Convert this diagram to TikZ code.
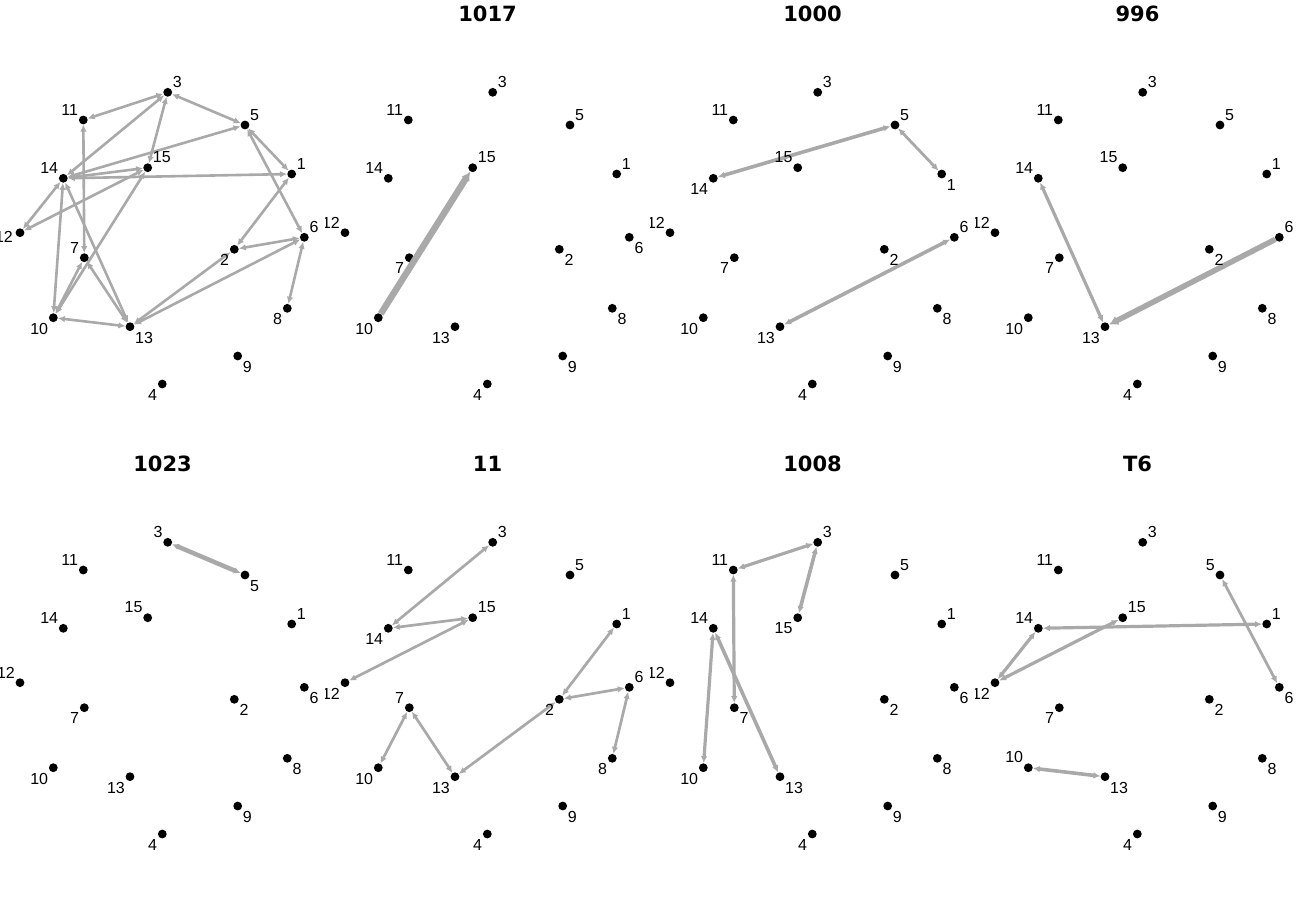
\documentclass[tikz,border=0pt]{standalone}
\usepackage{fontspec}
\setmainfont{Liberation Sans}
\newfontfamily\tfont{DejaVu Sans}
\usetikzlibrary{arrows.meta}
\definecolor{egray}{RGB}{169,169,169}
\tikzset{
  dot/.style={circle,fill=black,inner sep=0pt,minimum size=8.8pt},
  edge/.style={draw=egray,line width=2.6pt,{Latex[length=7pt,width=6.5pt]}-{Latex[length=7pt,width=6.5pt]}},
  edgeone/.style={draw=egray,-{Latex[length=9pt,width=10pt]}},
  lbl/.style={inner sep=0pt,font=\fontsize{16}{16}\selectfont},
  lne/.style={anchor=south west,xshift=5pt,yshift=4.5pt},
  lnw/.style={anchor=south east,xshift=-5pt,yshift=4.5pt},
  lse/.style={anchor=north west,xshift=5pt,yshift=-5pt},
  lsw/.style={anchor=north east,xshift=-5pt,yshift=-5pt},
  lw/.style={anchor=east,xshift=-7pt,yshift=-4pt},
  ttl/.style={inner sep=0pt,font=\tfont\bfseries\fontsize{21}{21}\selectfont}
}
\newcommand\plabels[4]{%
  \begin{scope}
    \clip (#2,#3) rectangle ++(325,450);
    \foreach \n/\d in {#4} {\node[lbl,l\d] (t#1-\n) at (n#1-\n) {\n};}
  \end{scope}}
\begin{document}
\begin{tikzpicture}[x=1pt,y=-1pt]
\useasboundingbox (0,0) rectangle (1300,900);
% nodes of all panels
\foreach \p/\ox/\oy in {1/0/0,2/325/0,3/650/0,4/975/0,5/0/450,6/325/450,7/650/450,8/975/450} {
  \foreach \n/\x/\y in {1/291.7/174,2/234.3/249.3,3/167.7/92.3,4/162.3/384,5/245/125,
      6/304.3/237.3,7/84.3/257.7,8/287.3/308.3,9/237.7/356,10/53.3/317.7,
      11/83.3/120,12/20/232.7,13/130/326.7,14/63.3/178.3,15/147.7/167.7}
    {\node[dot] (n\p-\n) at (\x+\ox,\y+\oy) {};}
}
% titles
\node[ttl] (h2) at (487.5,13.5) {1017};
\node[ttl] (h3) at (812.5,13.5) {1000};
\node[ttl] (h4) at (1137.5,13.5) {996};
\node[ttl] (h5) at (162.5,463.5) {1023};
\node[ttl] (h6) at (487.5,463.5) {11};
\node[ttl] (h7) at (812.5,463.5) {1008};
\node[ttl] (h8) at (1137.5,463.5) {T6};
% panel 1 edges
\foreach \a/\b in {3/11,3/5,3/14,3/15,14/5,14/15,14/1,14/12,15/12,15/10,14/10,14/13,
    11/7,7/13,10/7,10/13,5/1,5/6,1/2,2/6,6/13,2/13,6/8}
  {\draw[edge] (n1-\a) -- (n1-\b);}
% panel 2
\draw[edgeone,line width=6.5pt] (n2-10) -- (n2-15);
% panel 3
\draw[edge,line width=3.6pt] (n3-5) -- (n3-14);
\draw[edge,line width=2.8pt] (n3-5) -- (n3-1);
\draw[edge,line width=3.6pt] (n3-6) -- (n3-13);
% panel 4
\draw[edge,line width=3.2pt] (n4-14) -- (n4-13);
\draw[edgeone,line width=5.5pt] (n4-6) -- (n4-13);
% panel 5
\draw[edge,line width=4.5pt] (n5-3) -- (n5-5);
% panel 6
\foreach \a/\b in {3/14,14/15,15/12,1/2,2/6,6/8,7/10,7/13,13/2}
  {\draw[edge,line width=2.7pt] (n6-\a) -- (n6-\b);}
% panel 7
\draw[edge,line width=3.2pt] (n7-3) -- (n7-11);
\draw[edge,line width=3.6pt] (n7-3) -- (n7-15);
\draw[edge,line width=3.2pt] (n7-11) -- (n7-7);
\draw[edge,line width=3.2pt] (n7-14) -- (n7-10);
\draw[edge,line width=3.6pt] (n7-14) -- (n7-13);
% panel 8
\draw[edge,line width=3.2pt] (n8-14) -- (n8-1);
\draw[edge,line width=3.2pt] (n8-14) -- (n8-12);
\draw[edge,line width=3.2pt] (n8-12) -- (n8-15);
\draw[edge,line width=2.8pt] (n8-5) -- (n8-6);
\draw[edge,line width=3.6pt] (n8-10) -- (n8-13);
% labels
\plabels{1}{0}{0}{1/ne,2/sw,3/ne,4/sw,5/ne,6/ne,7/nw,8/sw,9/se,10/sw,11/nw,12/w,13/se,14/nw,15/ne}
\plabels{2}{325}{0}{1/ne,2/se,3/ne,4/sw,5/ne,6/se,7/sw,8/se,9/se,10/sw,11/nw,12/nw,13/sw,14/nw,15/ne}
\plabels{3}{650}{0}{1/se,2/se,3/ne,4/sw,5/ne,6/ne,7/sw,8/se,9/se,10/sw,11/nw,12/nw,13/sw,14/sw,15/nw}
\plabels{4}{975}{0}{1/ne,2/se,3/ne,4/sw,5/ne,6/ne,7/sw,8/se,9/se,10/sw,11/nw,12/nw,13/sw,14/nw,15/nw}
\plabels{5}{0}{450}{1/ne,2/se,3/nw,4/sw,5/se,6/se,7/sw,8/se,9/se,10/sw,11/nw,12/nw,13/sw,14/nw,15/nw}
\plabels{6}{325}{450}{1/ne,2/sw,3/ne,4/sw,5/ne,6/ne,7/nw,8/sw,9/se,10/sw,11/nw,12/sw,13/sw,14/sw,15/ne}
\plabels{7}{650}{450}{1/ne,2/se,3/ne,4/sw,5/ne,6/se,7/se,8/se,9/se,10/sw,11/nw,12/nw,13/se,14/nw,15/sw}
\plabels{8}{975}{450}{1/ne,2/se,3/ne,4/sw,5/nw,6/se,7/sw,8/se,9/se,10/nw,11/nw,12/sw,13/se,14/nw,15/ne}
\end{tikzpicture}
\end{document}
